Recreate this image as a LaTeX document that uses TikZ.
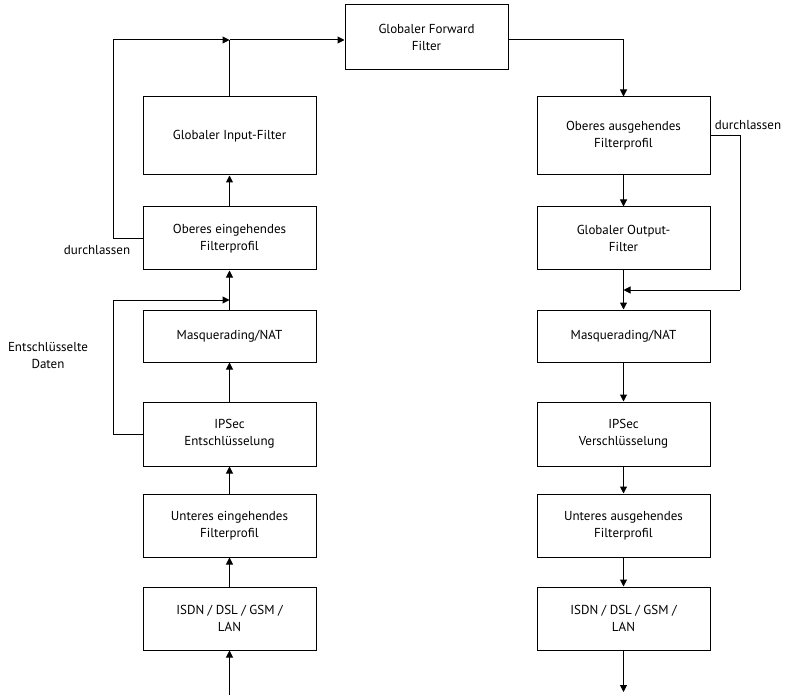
\documentclass[tikz,border=0pt]{standalone}
\usepackage{fontspec}
\setmainfont{PT Sans}
\usetikzlibrary{arrows.meta}
\begin{document}
\begin{tikzpicture}[x=1pt,y=-1pt,
  box/.style={draw,line width=1pt,minimum width=173pt,align=center,font=\fontsize{13}{17}\selectfont,inner sep=2pt},
  lbl/.style={align=center,font=\fontsize{13}{17}\selectfont},
  arr/.style={line width=1pt,-{Triangle[length=7pt,width=7pt]}},
  ln/.style={line width=1pt}]
\useasboundingbox (0,0) rectangle (790,695);
\node[box,minimum width=163pt,minimum height=65pt] (fw) at (426.5,37.5) {Globaler Forward\\Filter};
\node[box,minimum height=78pt] (gin) at (229.5,136) {Globaler Input-Filter};
\node[box,minimum height=63pt] (oein) at (229.5,238.5) {Oberes eingehendes\\Filterprofil};
\node[box,minimum height=52pt] (lnat) at (229.5,336) {Masquerading/NAT};
\node[box,minimum height=64pt] (lips) at (229.5,434) {IPSec\\Entschlüsselung};
\node[box,minimum height=63pt] (uein) at (229.5,525.5) {Unteres eingehendes\\Filterprofil};
\node[box,minimum height=63pt] (lisdn) at (229.5,618.5) {ISDN / DSL / GSM /\\LAN};
\node[box,minimum height=78pt] (oaus) at (623.5,136) {Oberes ausgehendes\\Filterprofil};
\node[box,minimum height=63pt] (gout) at (623.5,238.5) {Globaler Output-\\Filter};
\node[box,minimum height=52pt] (rnat) at (623.5,336) {Masquerading/NAT};
\node[box,minimum height=64pt] (rips) at (623.5,434) {IPSec\\Verschlüsselung};
\node[box,minimum height=63pt] (uaus) at (623.5,525.5) {Unteres ausgehendes\\Filterprofil};
\node[box,minimum height=63pt] (risdn) at (623.5,618.5) {ISDN / DSL / GSM /\\LAN};
\coordinate (lin) at (229.5,695);
\coordinate (rout) at (623.5,692);
\coordinate (ltop) at (229.5,40);
\coordinate (lmid) at (229.5,300);
\coordinate (rmid) at (623.5,290);
% left column
\draw[arr] (lin) -- (lisdn);
\draw[arr] (lisdn) -- (uein);
\draw[arr] (uein) -- (lips);
\draw[arr] (lips) -- (lnat);
\draw[ln] (lnat.north) -- (lmid);
\draw[arr] (lmid) -- (oein);
\draw[arr] (oein) -- (gin);
\draw[ln] (gin.north) -- (ltop);
\draw[arr] (ltop) -- (fw.west |- ltop);
\draw[ln] (lips.west) -- (113,434) -- (113,300);
\draw[arr] (113,300) -- (lmid);
\draw[ln] (oein.west) -- (113,238.5) -- (113,40);
\draw[arr] (113,40) -- (ltop);
% right column
\draw[ln] (fw.east |- ltop) -- (623.5,40);
\draw[arr] (623.5,40) -- (oaus);
\draw[arr] (oaus) -- (gout);
\draw[ln] (gout) -- (rmid);
\draw[arr] (rmid) -- (rnat);
\draw[arr] (rnat) -- (rips);
\draw[arr] (rips) -- (uaus);
\draw[arr] (uaus) -- (risdn);
\draw[arr] (risdn) -- (rout);
\draw[ln] (oaus.east) -- (740,136) -- (740,290);
\draw[arr] (740,290) -- (rmid);
\node[lbl] (d1) at (97,250) {durchlassen};
\node[lbl] (d2) at (748,125) {durchlassen};
\node[lbl] (ed) at (48,356) {Entschlüsselte\\Daten};
\end{tikzpicture}
\end{document}
